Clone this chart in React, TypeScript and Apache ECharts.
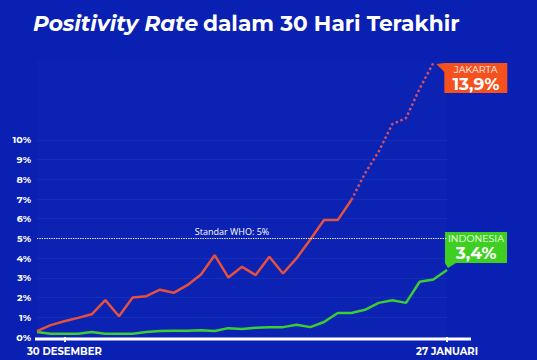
import React, { useEffect, useRef } from "react";
import * as echarts from "echarts";

const categories = [
  "28 DESEMBER", "29 DESEMBER", "30 DESEMBER", "31 DESEMBER",
  "1 JANUARI", "2 JANUARI", "3 JANUARI", "4 JANUARI", "5 JANUARI", "6 JANUARI",
  "7 JANUARI", "8 JANUARI", "9 JANUARI", "10 JANUARI", "11 JANUARI", "12 JANUARI",
  "13 JANUARI", "14 JANUARI", "15 JANUARI", "16 JANUARI", "17 JANUARI", "18 JANUARI",
  "19 JANUARI", "20 JANUARI", "21 JANUARI", "22 JANUARI", "23 JANUARI", "24 JANUARI",
  "25 JANUARI", "26 JANUARI", "27 JANUARI",
];
const shownLabels = ["30 DESEMBER", "27 JANUARI"];

// Jakarta (%), last days drawn dotted
const jakarta = [
  0.3, 0.6, 0.8, 0.97, 1.15, 1.87, 1.05, 2.0, 2.07, 2.4,
  2.24, 2.63, 3.17, 4.15, 3.02, 3.56, 3.14, 4.07, 3.22, 4.0,
  4.95, 5.93, 5.93, 6.95, 8.3, 9.4, 10.8, 11.1, 12.6, 13.9,
];
const jakartaSolidEnd = 23;

// Indonesia (%)
const indonesia = [
  0.25, 0.17, 0.17, 0.17, 0.25, 0.17, 0.17, 0.17, 0.25, 0.3,
  0.32, 0.32, 0.34, 0.3, 0.45, 0.4, 0.47, 0.5, 0.5, 0.62,
  0.5, 0.76, 1.22, 1.22, 1.38, 1.73, 1.86, 1.73, 2.8, 2.92, 3.4,
];

const whoStandard = 5;
const yTicks = [0, 1, 2, 3, 4, 5, 6, 7, 8, 9, 10];
const jakartaLabel = { name: "JAKARTA", value: "13,9%" };
const indonesiaLabel = { name: "INDONESIA", value: "3,4%" };

const BG = "#0a20b2";
const RED = "#e4523e";
const GREEN = "#3ccd33";
const FONT = "Montserrat, 'Open Sans', sans-serif";

export default function App() {
  const ref = useRef<HTMLDivElement>(null);
  useEffect(() => {
    if (!ref.current) return;
    const chart = echarts.init(ref.current, null, { renderer: "svg" });
    const solid = jakarta.map((v, i) => (i <= jakartaSolidEnd ? v : null));
    const dotted = jakarta.map((v, i) => (i >= jakartaSolidEnd ? v : null));
    const maxTick = yTicks[yTicks.length - 1];
    chart.setOption({
      animation: false,
      backgroundColor: BG,
      title: {
        left: 33,
        top: 12,
        padding: 0,
        text: "{i|Positivity Rate} {b|dalam 30 Hari Terakhir}",
        textStyle: {
          rich: {
            i: { fontFamily: FONT, fontSize: 21.7, fontWeight: 700, fontStyle: "italic", color: "#fff" },
            b: { fontFamily: FONT, fontSize: 21.7, fontWeight: 700, color: "#fff" },
          },
        },
      },
      grid: { left: 37, right: 90, top: 61, bottom: 23, show: true, backgroundColor: "rgba(255,255,255,0.01)", borderWidth: 0 },
      xAxis: {
        type: "category",
        data: categories,
        boundaryGap: false,
        axisLine: { show: false },
        axisTick: {
          show: true,
          interval: (i: number) => shownLabels.includes(categories[i]),
          length: 5,
          lineStyle: { color: "#fff", width: 2 },
        },
        axisLabel: {
          interval: (i: number) => shownLabels.includes(categories[i]),
          color: "#fff",
          fontFamily: FONT,
          fontWeight: 700,
          fontSize: 10,
          margin: 9,
        },
        splitLine: { show: false },
      },
      yAxis: {
        type: "value",
        min: 0,
        max: 14,
        interval: 1,
        axisLine: { show: false },
        axisTick: { show: false },
        axisLabel: {
          color: "#fff",
          fontFamily: FONT,
          fontWeight: 700,
          fontSize: 9.5,
          margin: 6,
          formatter: (v: number) => (v <= maxTick ? `${v}%` : ""),
        },
        splitLine: {
          show: true,
          lineStyle: {
            color: yTicks.map(() => "rgba(255,255,255,0.05)").concat(["rgba(0,0,0,0)", "rgba(0,0,0,0)", "rgba(0,0,0,0)", "rgba(0,0,0,0)"]),
            width: 1,
          },
        },
      },
      series: [
        {
          name: "Indonesia",
          type: "line",
          data: indonesia,
          symbol: "none",
          lineStyle: { color: GREEN, width: 2.5 },
          z: 3,
          markLine: {
            silent: true,
            symbol: "none",
            data: [{ yAxis: whoStandard }],
            lineStyle: { color: "#fff", type: "dotted", width: 1.2 },
            label: {
              position: "insideMiddleTop",
              formatter: "Standar WHO: 5%",
              color: "#fff",
              fontFamily: "'Open Sans', sans-serif",
              fontSize: 9,
              distance: 2,
              offset: [-10, 0],
            },
          },
        },
        {
          name: "Jakarta",
          type: "line",
          data: solid,
          symbol: "none",
          lineStyle: { color: RED, width: 2.5 },
          z: 4,
        },
        {
          name: "Jakarta (dotted)",
          type: "line",
          data: dotted,
          symbol: "none",
          lineStyle: { color: "#c9506e", width: 2.5, type: "dotted", dashOffset: 0 },
          z: 4,
        },
      ],
    });

    const toPx = (i: number, v: number) =>
      chart.convertToPixel({ xAxisIndex: 0, yAxisIndex: 0 }, [categories[i], v]) as number[];
    const [x0, y0] = toPx(0, 0);
    const [xN] = toPx(categories.length - 1, 0);
    const jIdx = jakarta.length - 1;
    const [jx, jy] = toPx(jIdx, jakarta[jIdx]);
    const iIdx = indonesia.length - 1;
    const [ix, iy] = toPx(iIdx, indonesia[iIdx]);

    chart.setOption({
      graphic: [
        {
          type: "line",
          shape: { x1: x0 - 2, y1: y0 + 2, x2: xN + 24, y2: y0 + 2 },
          style: { stroke: "#fff", lineWidth: 3 },
          z: 10,
        },
        {
          type: "group",
          children: [
            { type: "polygon", shape: { points: [[jx + 3, jy + 1], [jx + 12, jy], [jx + 12, jy + 10]] }, style: { fill: "#f4511f" } },
            { type: "rect", shape: { x: jx + 11, y: jy, width: 63, height: 30 }, style: { fill: "#f4511f" } },
            { type: "text", x: jx + 42.5, y: jy + 7, style: { text: jakartaLabel.name, fill: "#fff", font: `400 9.5px ${FONT}`, align: "center", verticalAlign: "middle" } },
            { type: "text", x: jx + 42.5, y: jy + 21, style: { text: jakartaLabel.value, fill: "#fff", font: `700 17px ${FONT}`, align: "center", verticalAlign: "middle" } },
          ],
          z: 20,
        },
        {
          type: "group",
          children: [
            { type: "polygon", shape: { points: [[ix - 2, iy - 7], [ix + 9, iy - 7], [ix + 1, iy - 2]] }, style: { fill: "#3fcf22" } },
            { type: "rect", shape: { x: ix - 2, y: iy - 38, width: 62, height: 31 }, style: { fill: "#3fcf22" } },
            { type: "text", x: ix + 29, y: iy - 31, style: { text: indonesiaLabel.name, fill: "#fff", font: `400 9.5px ${FONT}`, align: "center", verticalAlign: "middle" } },
            { type: "text", x: ix + 29, y: iy - 16.5, style: { text: indonesiaLabel.value, fill: "#fff", font: `700 17px ${FONT}`, align: "center", verticalAlign: "middle" } },
          ],
          z: 20,
        },
      ],
    });

    return () => chart.dispose();
  }, []);
  return <div ref={ref} style={{ position: "fixed", left: 0, top: 0, width: 537, height: 360 }} />;
}
